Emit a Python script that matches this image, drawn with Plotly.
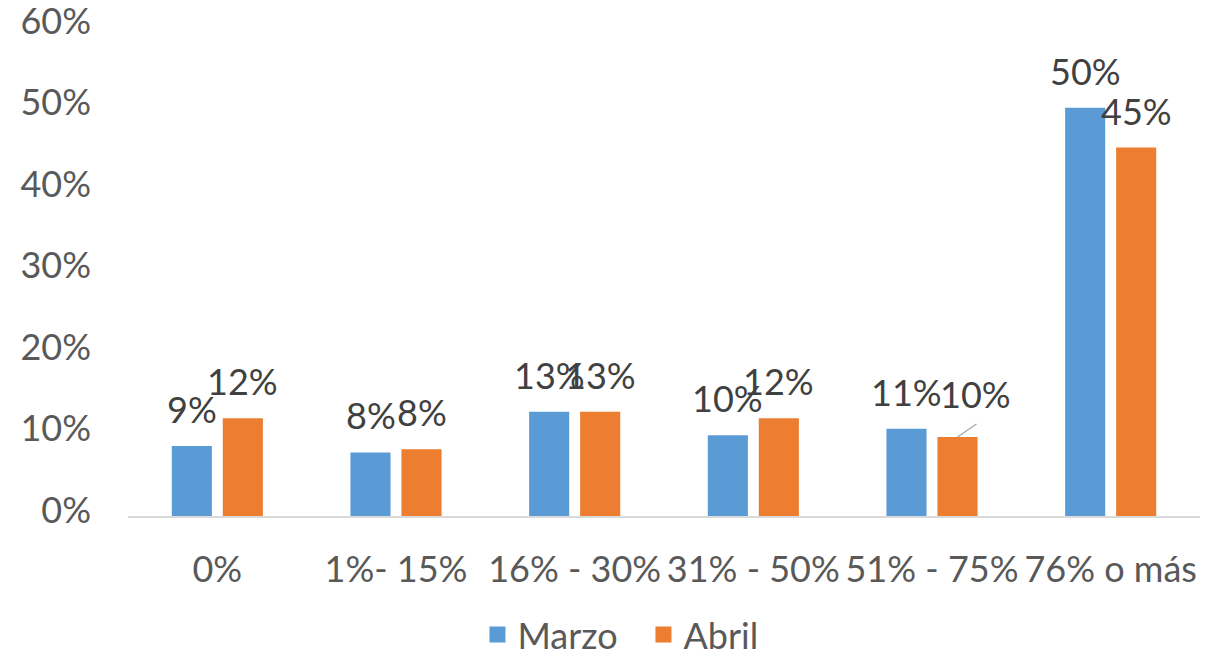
import plotly.graph_objects as go

# Share of respondents per range, March vs April
categorias = ["0%", "1%- 15%", "16% - 30%", "31% - 50%", "51% - 75%", "76% o más"]
marzo = [0.086, 0.078, 0.128, 0.099, 0.107, 0.501]
abril = [0.120, 0.082, 0.128, 0.120, 0.097, 0.452]
series = [("Marzo", marzo, "#5B9BD5"), ("Abril", abril, "#ED7D31")]

FONT = "Lato"
FSIZE = 36
BARGAP = 0.429
GROUPGAP = 0.214
slot = (1 - BARGAP) / 2          # width of one bar slot, in category units
offsets = [-slot / 2, slot / 2]  # bar centre offsets within each group

fig = go.Figure()
for nombre, valores, color in series:
    fig.add_trace(go.Bar(x=categorias, y=valores, name=nombre,
                         marker=dict(color=color, line=dict(width=0)),
                         showlegend=False, hoverinfo="skip"))
    # larger square swatch for the legend
    fig.add_trace(go.Scatter(x=[None], y=[None], name=nombre, mode="markers",
                             marker=dict(symbol="square", size=22, color=color)))

# data labels above each bar
for (nombre, valores, color), off in zip(series, offsets):
    for i, v in enumerate(valores):
        dx, dy = 0, 13
        if nombre == "Abril" and categorias[i] == "51% - 75%":
            dx, dy = 18, 19
            # leader line from the bar top to the displaced label
            fig.add_shape(type="line", xref="x", yref="y",
                          xsizemode="pixel", ysizemode="pixel",
                          xanchor=i + off, yanchor=v,
                          x0=0, x1=19, y0=0, y1=13,
                          line=dict(color="#A6A6A6", width=1.3))
        fig.add_annotation(x=i + off, y=v, xref="x", yref="y",
                           text=f"{v:.0%}", showarrow=False,
                           yanchor="bottom", xanchor="center",
                           xshift=dx, yshift=dy,
                           font=dict(family=FONT, size=FSIZE, color="#404040"))

fig.update_layout(
    width=1221, height=657,
    margin=dict(l=128, r=21, t=27, b=141, autoexpand=False),
    paper_bgcolor="white", plot_bgcolor="white",
    barmode="group", bargap=BARGAP, bargroupgap=GROUPGAP,
    font=dict(family=FONT, size=FSIZE, color="#595959"),
    legend=dict(orientation="h", xref="container", x=0.527, xanchor="center",
                yref="container", y=0.034, yanchor="middle",
                font=dict(family=FONT, size=FSIZE, color="#595959"),
                itemwidth=30, tracegroupgap=0,
                entrywidth=121, entrywidthmode="pixels"),
)
fig.update_xaxes(type="category", showgrid=False, showline=True, automargin=False,
                 linecolor="#D9D9D9", linewidth=1.5, ticks="",
                 ticklabelstandoff=21,
                 tickfont=dict(family=FONT, size=FSIZE, color="#595959"))
fig.update_yaxes(range=[0, 0.6], dtick=0.1, tickformat=".0%", automargin=False,
                 showgrid=False, zeroline=False, showline=False, ticks="",
                 ticklabelstandoff=36, ticklabelshift=-6, ticklabeloverflow="allow",
                 tickfont=dict(family=FONT, size=FSIZE, color="#595959"))

fig.write_html("out.html")
